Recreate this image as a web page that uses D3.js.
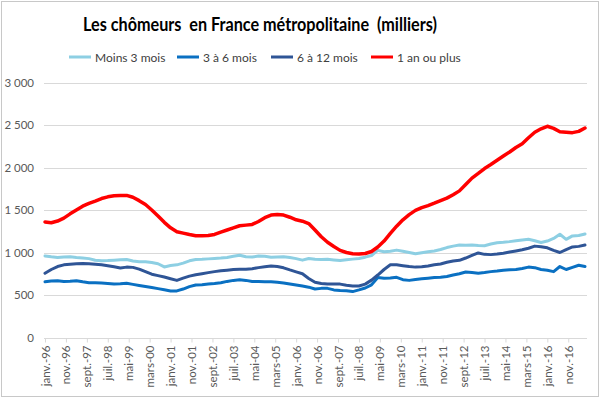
<!DOCTYPE html>
<html>
<head>
<meta charset="utf-8">
<script src="https://cdn.jsdelivr.net/npm/d3@7"></script>
<style>
  body { margin: 0; background: #fff; }
  svg { display: block; font-family: Lato, "Open Sans", sans-serif; }
</style>
</head>
<body>
<div id="chart"></div>
<script>
"use strict";

var title = "Les chômeurs  en France métropolitaine  (milliers)";

var seriesNames = ["Moins 3 mois", "3 à 6 mois", "6 à 12 mois", "1 an ou plus"];
var seriesColors = ["#8dcfe3", "#0a70c2", "#2f5596", "#ff0000"];

// one value every 3 months, janv.-96 .. juil.-17 (month offsets from janv.-96)
var months = d3.range(0, 259, 3);

var moins3 = [
  960, 950, 942, 948, 950, 940, 935, 928, 908, 902, 905, 910,
  915, 918, 900, 890, 892, 882, 868, 830, 848, 855, 875, 902,
  918, 920, 925, 930, 935, 942, 955, 968, 950, 948, 958, 955,
  945, 948, 950, 940, 928, 910, 930, 920, 918, 920, 912, 905,
  915, 922, 930, 945, 965, 1025, 1008, 1015, 1028, 1015, 1000, 985,
  998, 1010, 1018, 1035, 1058, 1075, 1088, 1085, 1088, 1082, 1080, 1100,
  1115, 1120, 1128, 1138, 1148, 1155, 1138, 1118, 1135, 1165, 1215, 1155,
  1195, 1200, 1218
];
var de3a6 = [
  655, 665, 668, 660, 662, 668, 655, 645, 645, 640, 636, 630,
  632, 637, 625, 612, 600, 588, 575, 562, 548, 548, 570, 598,
  618, 622, 628, 635, 645, 660, 672, 678, 672, 660, 658, 656,
  655, 650, 642, 630, 618, 605, 592, 570, 578, 578, 560, 552,
  550, 540, 560, 582, 620, 705, 698, 700, 708, 680, 672, 682,
  690, 698, 705, 708, 718, 735, 750, 770, 765, 757, 765, 775,
  782, 792, 796, 800, 812, 828, 822, 800, 792, 775, 835, 800,
  825, 850, 835
];
var de6a12 = [
  755, 800, 835, 855, 862, 868, 872, 868, 862, 855, 845, 832,
  818, 828, 825, 805, 775, 745, 728, 712, 692, 672, 698, 722,
  738, 750, 763, 775, 785, 792, 800, 802, 802, 810, 822, 832,
  840, 835, 820, 795, 772, 750, 695, 650, 636, 630, 630, 628,
  615, 606, 606, 628, 675, 735, 800, 855, 855, 845, 835, 828,
  832, 842, 855, 865, 885, 900, 908, 935, 965, 995, 978, 975,
  982, 992, 1005, 1018, 1032, 1050, 1075, 1068, 1055, 1025, 1000, 1035,
  1065, 1072, 1088
];
var unAnPlus = [
  1360, 1350, 1370, 1405, 1455, 1500, 1545, 1578, 1605, 1635, 1655, 1668,
  1672, 1672, 1650, 1610, 1565, 1500, 1430, 1355, 1290, 1245, 1228, 1212,
  1198, 1196, 1200, 1212, 1240, 1265, 1290, 1315, 1322, 1330, 1365, 1410,
  1440, 1448, 1440, 1415, 1385, 1368, 1340, 1265, 1185, 1120, 1070, 1025,
  1000, 985, 982, 988, 1012, 1065, 1135, 1225, 1310, 1385, 1445, 1495,
  1528, 1552, 1580, 1610, 1640, 1680, 1725, 1800, 1875, 1930, 1988, 2035,
  2085, 2135, 2183, 2235, 2280, 2350, 2415, 2455, 2485, 2460, 2420, 2415,
  2410, 2425, 2465
];

var xTickLabels = [
  "janv.-96", "nov.-96", "sept.-97", "juil.-98", "mai-99", "mars-00",
  "janv.-01", "nov.-01", "sept.-02", "juil.-03", "mai-04", "mars-05",
  "janv.-06", "nov.-06", "sept.-07", "juil.-08", "mai-09", "mars-10",
  "janv.-11", "nov.-11", "sept.-12", "juil.-13", "mai-14", "mars-15",
  "janv.-16", "nov.-16"
];
var yTicks = [0, 500, 1000, 1500, 2000, 2500, 3000];

var series = [moins3, de3a6, de6a12, unAnPlus];

var width = 600, height = 398;

var svg = d3
  .select("#chart")
  .append("svg")
  .attr("width", width)
  .attr("height", height);

svg
  .append("rect")
  .attr("x", 1.5)
  .attr("y", 1.5)
  .attr("width", width - 3)
  .attr("height", height - 3)
  .attr("fill", "#fff")
  .attr("stroke", "#c8c8c8");

var x = d3.scaleLinear().domain([0, 258]).range([45, 585]);
var y = d3.scaleLinear().domain([0, 3000]).range([337.5, 82.5]);

// gridlines
svg
  .append("g")
  .selectAll("line")
  .data(yTicks.slice(1))
  .enter()
  .append("line")
  .attr("x1", 44)
  .attr("x2", 587)
  .attr("y1", function(d) { return Math.round(y(d)) + 0.5; })
  .attr("y2", function(d) { return Math.round(y(d)) + 0.5; })
  .attr("stroke", "#d9d9d9");

// y labels
var fmt = function(d) {
  return d3.format(",")(d).replace(",", "\u00a0");
};
svg
  .append("g")
  .selectAll("text")
  .data(yTicks)
  .enter()
  .append("text")
  .attr("x", 34)
  .attr("y", function(d) { return y(d) + 4; })
  .attr("text-anchor", "end")
  .attr("font-size", 11.5)
  .attr("fill", "#595959")
  .text(fmt);

// x axis
var xAxis = d3
  .axisBottom(x)
  .tickValues(d3.range(0, 251, 10))
  .tickSize(4)
  .tickFormat(function(d, i) { return xTickLabels[i]; });

var gx = svg
  .append("g")
  .attr("transform", "translate(0," + (Math.round(y(0)) + 0.5) + ")")
  .call(xAxis);

gx.select(".domain").attr("d", "M44,0H587").attr("stroke", "#d9d9d9");
gx.selectAll(".tick line").attr("stroke", "#d9d9d9");
gx
  .selectAll(".tick text")
  .attr("font-family", "Lato, sans-serif")
  .attr("font-size", 11.5)
  .attr("fill", "#595959")
  .attr("text-anchor", "end")
  .attr("transform", "rotate(-90)")
  .attr("x", -7)
  .attr("y", 0)
  .attr("dy", "0.35em");

// lines
var line = d3
  .line()
  .x(function(d, i) { return x(months[i]); })
  .y(function(d) { return y(d); });

svg
  .append("g")
  .selectAll("path")
  .data(series)
  .enter()
  .append("path")
  .attr("d", line)
  .attr("fill", "none")
  .attr("stroke", function(d, i) { return seriesColors[i]; })
  .attr("stroke-width", function(d, i) { return i === 3 ? 3.5 : 3; })
  .attr("stroke-linejoin", "round")
  .attr("stroke-linecap", "round");

// title
svg
  .append("text")
  .attr("x", 260)
  .attr("y", 31)
  .attr("text-anchor", "middle")
  .attr("font-size", 19)
  .attr("font-weight", "bold")
  .attr("fill", "#000")
  .attr("textLength", 354)
  .attr("lengthAdjust", "spacingAndGlyphs")
  .style("white-space", "pre")
  .text(title);

// legend
var legendX = [69, 177, 271, 371];
var leg = svg
  .append("g")
  .selectAll("g")
  .data(seriesNames)
  .enter()
  .append("g")
  .attr("transform", function(d, i) { return "translate(" + legendX[i] + ",57)"; });

leg
  .append("line")
  .attr("x1", 0)
  .attr("x2", 22)
  .attr("stroke", function(d, i) { return seriesColors[i]; })
  .attr("stroke-width", 3);

leg
  .append("text")
  .attr("x", 26)
  .attr("y", 4.5)
  .attr("font-size", 12)
  .attr("fill", "#404040")
  .text(function(d) { return d; });
</script>
</body>
</html>
